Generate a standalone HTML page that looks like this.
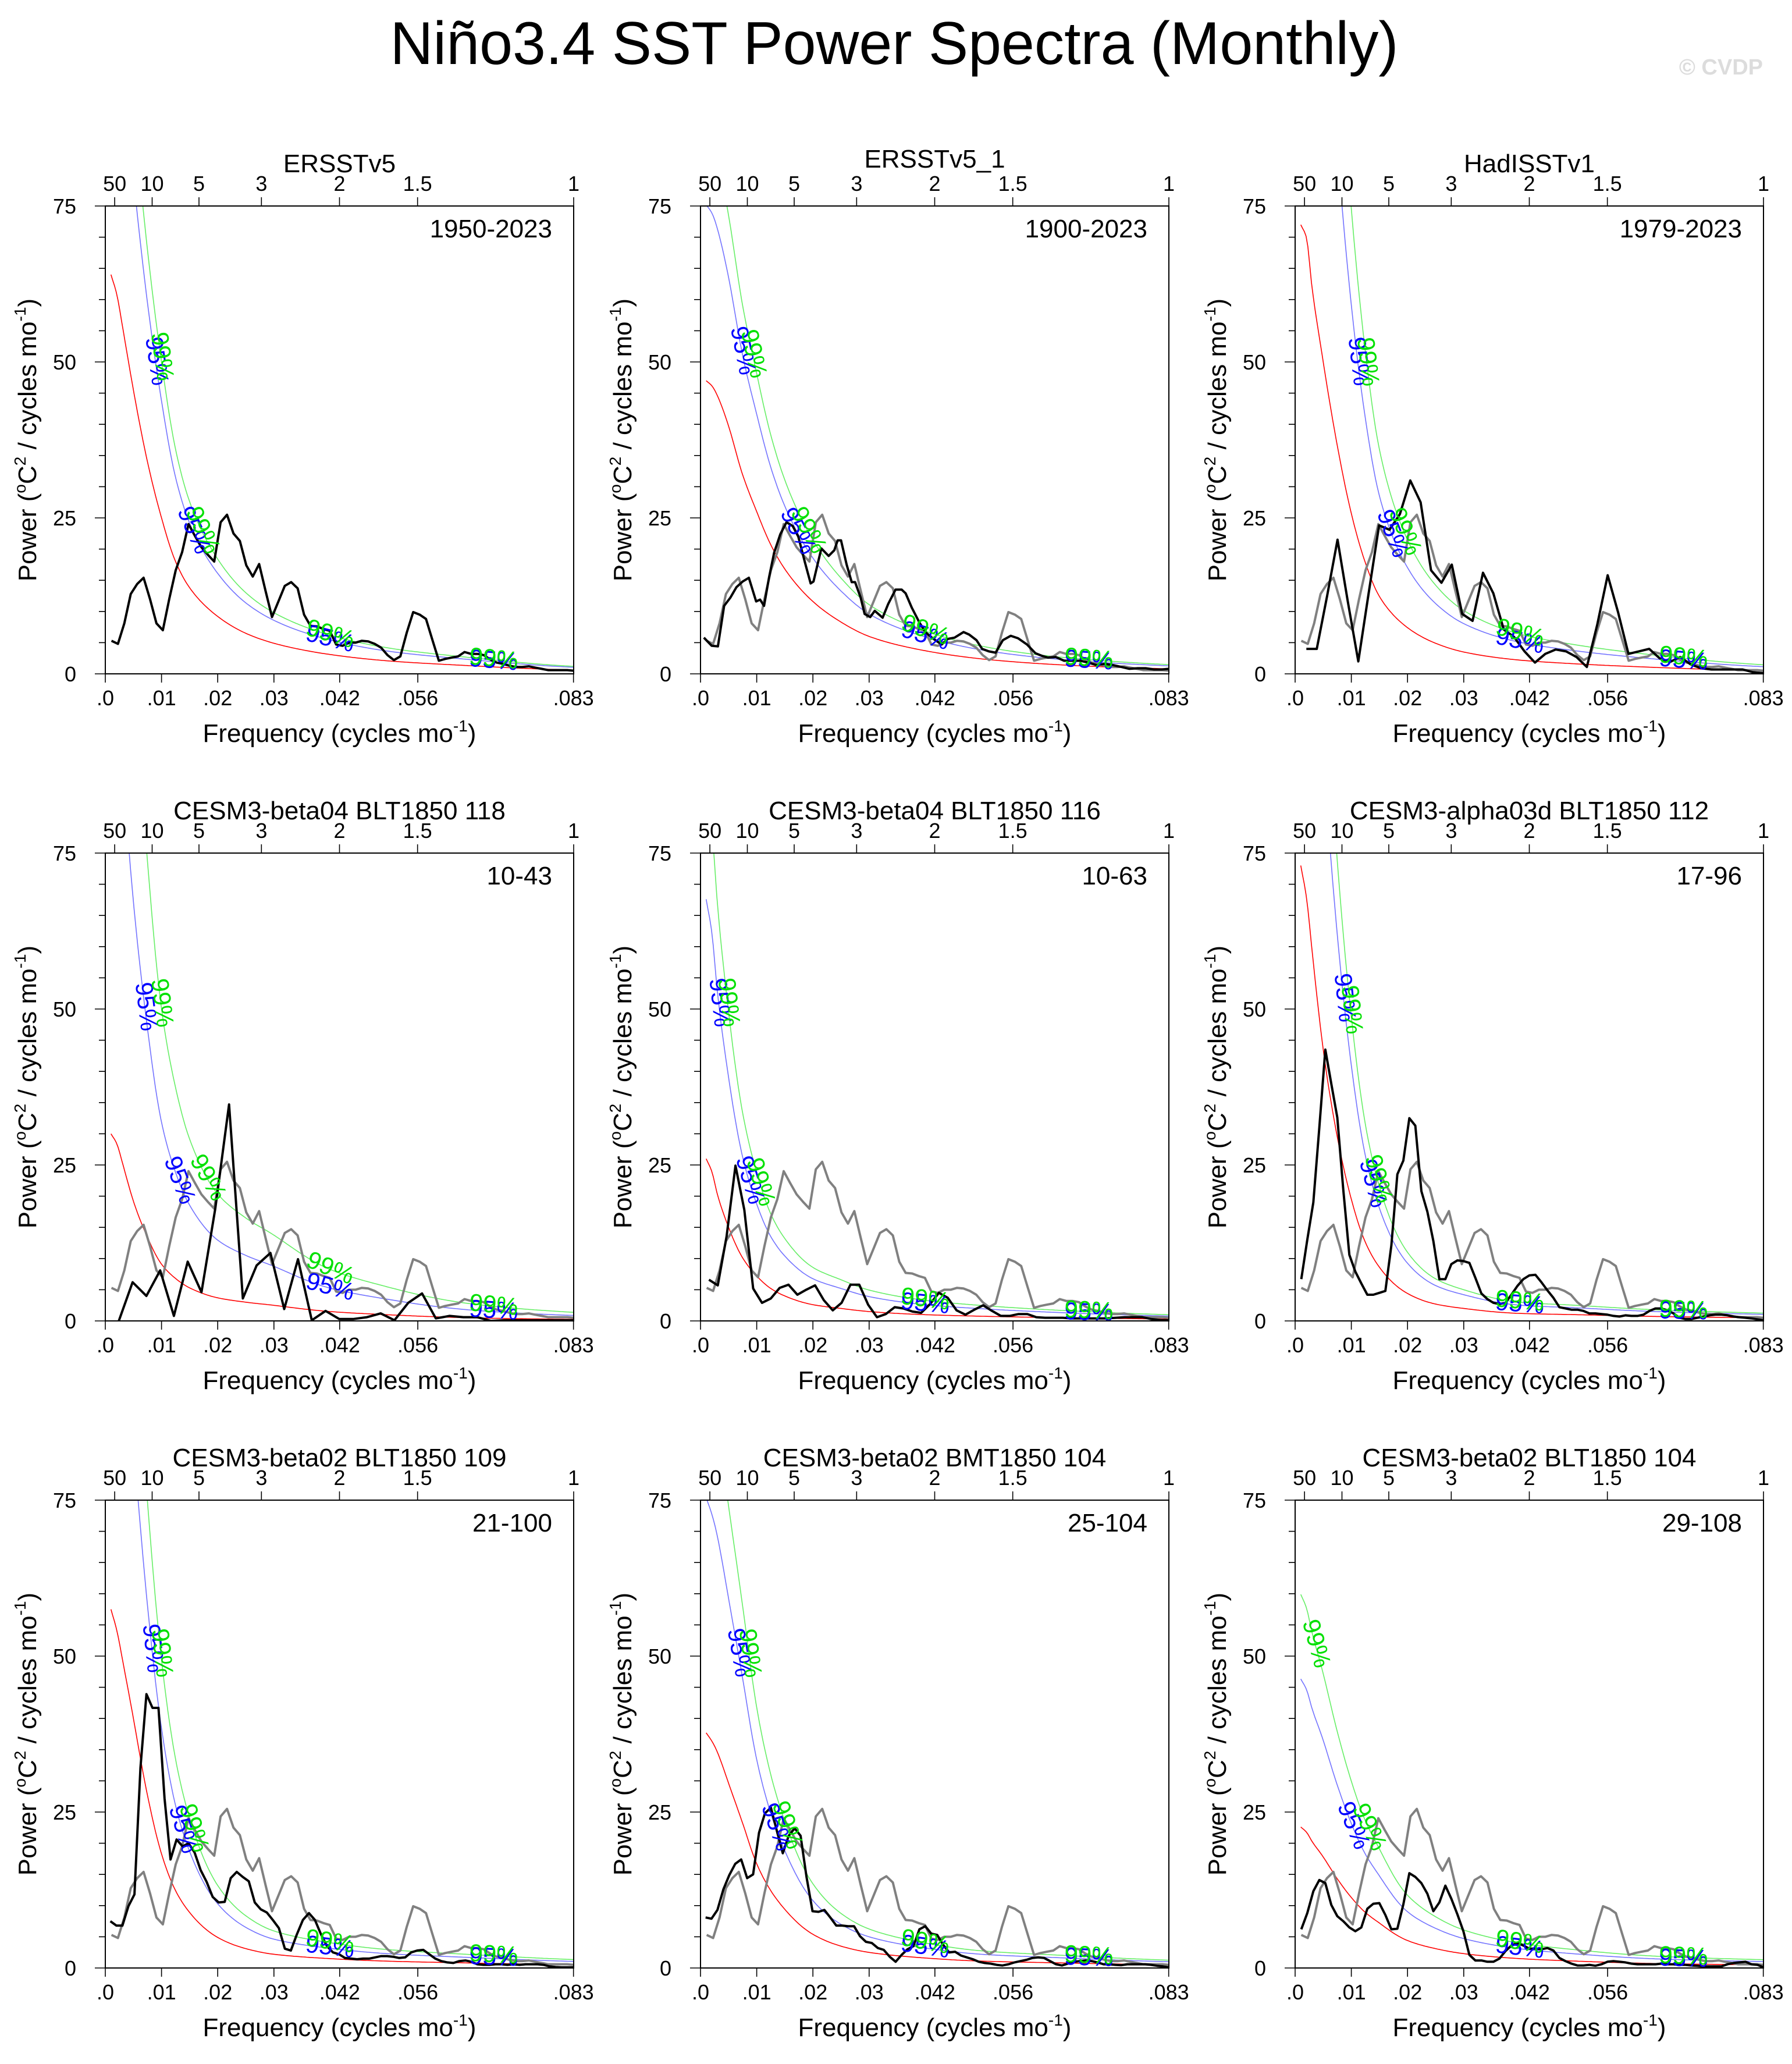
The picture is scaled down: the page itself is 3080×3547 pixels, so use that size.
<!DOCTYPE html>
<html><head><meta charset="utf-8"><title>Niño3.4 SST Power Spectra</title>
<style>
html,body{margin:0;padding:0;background:#fff;}
svg{display:block;font-family:"Liberation Sans",Arial,sans-serif;}
</style></head>
<body>
<svg id="fig" width="3080" height="3547" viewBox="0 0 3080 3547" xmlns="http://www.w3.org/2000/svg">
<rect x="0" y="0" width="3080" height="3547" fill="#fff"/>
<text x="1537" y="110" text-anchor="middle" font-size="104" textLength="1733" lengthAdjust="spacingAndGlyphs">Niño3.4 SST Power Spectra (Monthly)</text>
<text x="3030" y="128" text-anchor="end" font-size="38" font-weight="bold" fill="#dcdcdc">© CVDP</text>
<g id="panels"></g>
</svg>
<script>
// ---------- DATA ----------
const redFreq = [0.001,0.002,0.003,0.005,0.0075,0.01,0.0125,0.015,0.02,0.025,0.03,0.04,0.05,0.065,0.0833];
const redP1 = [64,61,56,45.5,34,25,18,13.8,9.2,6.5,4.9,3.1,2.1,1.3,0.6];
const redP2 = [47,46.2,44.6,39.7,31.9,26,20.7,16.8,11.6,8.3,6,3.7,2.4,1.4,0.8];
const redP3 = [72,70,62,50,36.6,25.7,17.8,12.4,7.4,4.9,3.5,2.2,1.6,1.0,0.5];
const redP4 = [30,28.5,25.5,19.2,13.4,9.1,6.8,5.3,3.7,3.0,2.5,1.5,1.0,0.5,0.25];
const redP5 = [26,24,20.3,15,10.1,7.2,5.2,4.0,2.6,2.0,1.5,1.0,0.75,0.5,0.3];
const redP6 = [73,68,59.5,43.5,29.5,19.5,12.6,8.6,4.4,2.7,2.0,1.2,1.0,0.7,0.5];
const redP7 = [57.5,54.3,49.7,40,27.7,18.3,12.4,8.9,4.9,3.1,2.2,1.5,1.1,0.8,0.5];
const redP8 = [37.7,36.4,34.6,29.6,23.2,16.7,12.4,9.4,5.4,3.5,2.5,1.6,1.1,0.8,0.5];
const redP9 = [22.6,21.8,20.3,17.8,14.3,11.3,8.9,7.2,4.4,3.1,2.3,1.5,1.1,0.7,0.5];
const ci95Factor = [1.75,1.6,2.3,3.5,2.6,2.1,2.1,2.0,2.05];
const ci99Factor = [2.0,1.85,2.9,5.5,3.3,2.5,2.7,2.5,2.65];

const specStart = [0.0011,0.0006,0.002,0.0024,0.0015,0.0011,0.0009,0.0009,0.0011];
const specP1 = [5.3,4.8,8.1,12.8,14.4,15.4,12,8.1,7,12,16.6,19.5,24,22.1,20.3,19.1,18,24.3,25.5,22.5,21.3,17.4,15.6,17.6,13.3,9.1,11.6,14.1,14.7,13.7,9.5,7.7,7.6,7.2,6.9,4.7,4.5,5.0,5.0,5.3,5.2,4.8,4.2,3.0,2.2,2.8,6.6,9.9,9.5,8.8,5.4,2.1,2.4,2.6,2.8,3.5,3.2,3.2,3.0,2.3,1.8,1.6,1.3,1.1,1.1,1.2,1.0,0.8,0.6,0.6,0.6,0.6,0.5];
const freqP2 = [.0006,.0020,.0031,.0042,.0053,.0064,.0075,.0086,.0099,.0106,.0113,.0122,.0131,.0142,.0153,.0164,.0174,.0186,.0196,.0201,.0215,.0228,.0238,.0244,.0250,.0260,.0269,.0275,.0285,.0292,.0302,.0310,.0324,.0334,.0347,.0358,.0365,.0376,.0389,.0400,.0413,.0429,.0440,.0452,.0468,.0478,.0491,.0501,.0513,.0525,.0538,.0552,.0565,.0581,.0596,.0607,.0618,.0632,.0647,.0661,.0676,.0690,.0705,.0719,.0734,.0749,.0763,.0778,.0792,.0807,.0821,.0833];
const specP2 = [5.8,4.5,4.4,10.9,12.2,13.9,14.8,15.4,11.6,11.9,10.9,15.5,19.4,22.4,24.3,23.7,22,17.8,14.5,14.8,20.1,18.9,19.8,21.4,21.4,17.5,14.7,14.7,12.2,9.6,9.1,10.1,9,11.2,13.5,13.5,12.9,10.6,8.3,6.7,5.7,4.7,5.6,5.8,6.7,6.3,5.4,4,3.6,3.4,5.4,6.1,5.7,4.7,3.3,2.9,2.6,2.7,2.1,2.1,2.1,1.8,1.4,1.6,1.4,1.1,0.8,0.9,0.9,0.7,0.7,0.8];
const specP3 = [4.0,4.0,12.5,21.5,11.5,2.0,13,23.8,23.1,25.6,31.0,27.5,16.6,14.6,17.5,9.6,8.5,16.2,12.9,7.1,5.9,3.6,1.8,3.2,3.9,3.6,2.7,1.1,7.9,15.8,9.9,3.2,3.6,4.0,2.5,1.9,2.7,1.5,0.9,0.7,0.7,0.7,0.7,0.25,0.1];
const specP4 = [0,6.2,4.0,8.1,0.8,9.5,4.6,18.0,34.7,3.6,8.9,10.9,1.9,9.9,0.1,1.6,0.3,0.3,0.6,1.2,0.1,2.9,4.4,0.4,0.8,0.6,0.6,0,0.1,0.1,0.1,0.1,0.1,0.1];
const specP5 = [6.6,5.7,13.6,24.9,17.8,5.2,2.9,3.6,5.3,5.8,4.2,5.0,5.7,3.3,1.7,2.9,5.8,5.8,2.6,0.6,1.1,2.2,2.0,1.5,1.3,2.7,4.5,3.7,1.7,1.0,1.8,2.5,1.6,0.8,0.8,1.1,1.1,0.6,0.5,0.5,0.5,0.4,0.4,0.4,0.4,0.4,0.5,0.6,0.6,0.6,0.3,0.15,0.1];
const specP6 = [6.7,13,19.0,31,43.5,38,32.6,21,10.6,7.9,6,4.2,4.2,4.5,4.8,12.1,23.5,25.7,32.5,31.3,20.8,17.5,12.8,6.7,6.7,9.1,9.7,9.6,9.3,6.9,4.4,3.5,2.9,2.7,2.9,4.2,5.6,6.7,7.3,7.4,6.2,4.9,3.7,2.2,2.0,1.8,1.8,1.6,1.2,1.2,1.1,1.0,0.8,0.7,0.9,0.8,0.8,1.0,1.6,2.0,2.0,1.7,1.2,0.5,0.3,0.3,0.5,0.7,0.9,1.0,1.0,0.9,0.7,0.6,0.5,0.4,0.25,0.1];
const specP7 = [7.5,6.8,6.8,9.9,11.8,32.1,43.9,41.7,41.7,27.2,17.4,20.6,19.5,20.0,18.5,15.7,13.8,11.4,10.5,10.6,14.4,15.4,14.6,13.9,10.5,9.4,8.9,7.7,6.4,3.1,2.8,5.4,7.7,8.8,7.7,5.4,3.5,2.5,2.2,1.6,1.5,1.4,1.5,1.5,1.7,1.9,1.9,1.8,1.6,1.7,2.5,2.8,2.9,2.2,1.5,1.1,0.9,0.8,1.1,1.2,1.0,0.6,0.5,0.5,0.6,0.6,0.5,0.6,0.5,0.6,0.6,0.6,0.5,0.25,0.15,0.1,0.1,0.1];
const specP8 = [8.1,7.9,9.3,12.6,14.9,16.7,17.4,14.4,15.0,21.7,24.8,25.7,22.0,18.4,21.2,22.4,21.2,14.6,9.1,9.0,9.3,8.1,6.8,6.8,6.7,6.7,5.1,4.2,4.0,3.2,2.9,1.8,1.0,2.1,3.0,3.5,6.2,6.7,5.5,5.3,3.7,2.5,2.6,2.0,1.7,1.4,1.0,0.8,0.7,0.5,0.4,0.6,0.9,1.1,1.3,1.6,1.7,1.6,1.1,0.6,0.4,0.7,1.0,1.1,1.2,1.1,0.9,0.6,0.6,0.5,0.45,0.6,0.6,0.6,0.6,0.5,0.35,0.25,0.1];
const specP9 = [6.2,8.8,12.3,14.1,13.6,10.1,8.3,7.5,6.5,5.9,6.5,9.5,10.3,10.4,8.5,6.2,6.3,10.2,15.2,14.6,13.6,11.9,9.1,10.5,13.2,11.1,8.6,5.9,2.1,1.2,1.2,1.0,1.0,1.5,2.7,3.6,4.0,3.6,3.1,3.1,3.0,3.2,2.8,1.6,1.1,0.7,0.4,0.4,0.5,0.35,0.6,1.0,1.1,1.0,0.9,0.7,0.6,0.6,0.6,0.6,0.7,0.6,0.6,0.5,0.5,0.4,0.35,0.25,0.25,0.25,0.25,0.6,0.8,0.9,1.0,0.6,0.5,0.1];

const panelTitles = ["ERSSTv5","ERSSTv5_1","HadISSTv1","CESM3-beta04 BLT1850 118","CESM3-beta04 BLT1850 116","CESM3-alpha03d BLT1850 112","CESM3-beta02 BLT1850 109","CESM3-beta02 BMT1850 104","CESM3-beta02 BLT1850 104"];
const panelRanges = ["1950-2023","1900-2023","1979-2023","10-43","10-63","17-96","21-100","25-104","29-108"];
const yTicks = [0,25,50,75];
const xTickVals = [0,0.01,0.02,0.03,0.0417,0.0556,0.0833];
const xTickLabels = [".0",".01",".02",".03",".042",".056",".083"];
const periodVals = [50,10,5,3,2,1.5,1];
const periodLabels = ["50","10","5","3","2","1.5","1"];

const redSets = [redP1,redP2,redP3,redP4,redP5,redP6,redP7,redP8,redP9];
const specSets = [specP1,specP2,specP3,specP4,specP5,specP6,specP7,specP8,specP9];

// ---------- LAYOUT ----------
const NS = "http://www.w3.org/2000/svg";
const colLeft = [181,1204,2226], rowTop = [354,1466,2578];
const PW = 805, PH = 804, FMAX = 1/12, YMAX = 75;
const root = document.getElementById('panels');
function el(tag, attrs, parent){const e=document.createElementNS(NS,tag);for(const k in attrs)e.setAttribute(k,attrs[k]);(parent||root).appendChild(e);return e;}

function monoInterp(xs, ys){
  const n=xs.length, d=[], m=[];
  for(let i=0;i<n-1;i++) d.push((ys[i+1]-ys[i])/(xs[i+1]-xs[i]));
  m[0]=d[0]; m[n-1]=d[n-2];
  for(let i=1;i<n-1;i++) m[i]=(d[i-1]*d[i]<=0)?0:2*d[i-1]*d[i]/(d[i-1]+d[i]);
  return function(x){
    let i=0; while(i<n-2 && x>xs[i+1]) i++;
    const h=xs[i+1]-xs[i], t=Math.max(0,Math.min(1,(x-xs[i])/h));
    const t2=t*t,t3=t2*t;
    return (2*t3-3*t2+1)*ys[i]+(t3-2*t2+t)*h*m[i]+(-2*t3+3*t2)*ys[i+1]+(t3-t2)*h*m[i+1];
  };
}

for(let p=0;p<9;p++){
  const L=colLeft[p%3], T=rowTop[Math.floor(p/3)], R=L+PW, B=T+PH;
  const sx=f=>L+f/FMAX*PW, sy=v=>B-v/YMAX*PH;
  const g=el('g',{});
  
  
  const clipId='clip'+p;
  const cp=el('clipPath',{id:clipId},g); el('rect',{x:L,y:T,width:PW,height:PH},cp);

  const tt=el('text',{x:(L+R)/2,y:(p===1?T-66:T-58),'text-anchor':'middle','font-size':44},g);
   
  tt.textContent=panelTitles[p];
  const rt=el('text',{x:R-37,y:T+54,'text-anchor':'end','font-size':44},g);
   
  rt.textContent=panelRanges[p];

  const cg=el('g',{'clip-path':'url(#'+clipId+')'},g);
  const logs=redSets[p].map(v=>Math.log(v));
  const fn=monoInterp(redFreq,logs);
  const pts=[]; const N=260;
  for(let i=0;i<=N;i++){const f=redFreq[0]+(FMAX-redFreq[0])*i/N; pts.push([f,Math.exp(fn(f))]);}
  const curves=[[1,'#ff0000','red-noise-curve'],[ci95Factor[p],'#7373ff','ci95-curve'],[ci99Factor[p],'#66ee66','ci99-curve']];
  const curvePts=[];
  curves.forEach(([k,col,nm])=>{
    const cpts=pts.map(([f,v])=>[sx(f),sy(v*k)]);
    curvePts.push(cpts);
    const pl=el('polyline',{points:cpts.map(q=>q[0].toFixed(1)+','+q[1].toFixed(1)).join(' '),fill:'none',stroke:col,'stroke-width':1.6},cg);
     
  });
  function specPoints(s,idx){
    const n=s.length;
    return s.map((v,i)=>{const f=(idx===1)?freqP2[i]:specStart[idx]+(FMAX-specStart[idx])*i/(n-1);return sx(f).toFixed(1)+','+sy(v).toFixed(1);}).join(' ');
  }
  if(p>0){
    const gl=el('polyline',{points:specPoints(specP1,0),fill:'none',stroke:'#808080','stroke-width':4,'stroke-linejoin':'round'},cg);
     
  }
  const bl=el('polyline',{points:specPoints(specSets[p],p),fill:'none',stroke:'#000','stroke-width':4,'stroke-linejoin':'round'},cg);
   

  [[1,'#0000ff','95%'],[2,'#00e000','99%']].forEach(([ci,col,txt])=>{
    const cpts=curvePts[ci];
    const k=curves[ci][0];
    const targets=[];
    [52,23].forEach(val=>{
      for(let i=1;i<pts.length;i++){
        const a=pts[i-1][1]*k,b=pts[i][1]*k;
        if(a>=val&&b<val){targets.push(i);break;}
      }
    });
    [0.04,0.069].forEach(f=>{targets.push(Math.round((f-redFreq[0])/(FMAX-redFreq[0])*N));});
    targets.forEach(i=>{
      i=Math.max(1,Math.min(N-1,i));
      const x=cpts[i][0],y=cpts[i][1];
      if(y<T+20) return;
      const dx=cpts[i+1][0]-cpts[i-1][0],dy=cpts[i+1][1]-cpts[i-1][1];
      const ang=Math.atan2(dy,dx)*180/Math.PI;
      const lt=el('text',{x:x,y:y,'text-anchor':'middle','dominant-baseline':'middle','font-size':42,fill:col,transform:'rotate('+ang.toFixed(1)+' '+x.toFixed(1)+' '+y.toFixed(1)+')'},g);
      
      
      lt.textContent=txt;
    });
  });

  const fr=el('rect',{x:L,y:T,width:PW,height:PH,fill:'none',stroke:'#000','stroke-width':2},g);
   
  for(let v=0;v<=75;v+=5){
    const major=(v%25===0);
    el('line',{x1:L-(major?18:11),x2:L,y1:sy(v),y2:sy(v),stroke:'#000','stroke-width':1.6},g);
  }
  yTicks.forEach(v=>{
    const t=el('text',{x:L-50,y:sy(v)+13,'text-anchor':'end','font-size':36},g);
     
    t.textContent=String(v);
  });
  xTickVals.forEach((f,i)=>{
    el('line',{x1:sx(f),x2:sx(f),y1:B,y2:B+15,stroke:'#000','stroke-width':1.6},g);
    const t=el('text',{x:sx(f),y:B+54,'text-anchor':'middle','font-size':36},g);
     
    t.textContent=xTickLabels[i];
  });
  periodVals.forEach((pv,i)=>{
    const f=1/(12*pv);
    el('line',{x1:sx(f),x2:sx(f),y1:T-15,y2:T,stroke:'#000','stroke-width':1.6},g);
    const t=el('text',{x:sx(f),y:T-26,'text-anchor':'middle','font-size':36},g);
     
    t.textContent=periodLabels[i];
  });
  const xt=el('text',{x:(L+R)/2,y:B+117,'text-anchor':'middle','font-size':44},g);
   
  xt.innerHTML='Frequency (cycles mo<tspan font-size="28" dy="-18">-1</tspan><tspan dy="18">)</tspan>';
  const yx=L-119, yy=(T+B)/2;
  const yt=el('text',{x:yx,y:yy,'text-anchor':'middle','font-size':44,transform:'rotate(-90 '+yx+' '+yy+')'},g);
   
  yt.innerHTML='Power (<tspan font-size="28" dy="-18">o</tspan><tspan dy="18">C</tspan><tspan font-size="28" dy="-18">2</tspan><tspan dy="18"> / cycles mo</tspan><tspan font-size="28" dy="-18">-1</tspan><tspan dy="18">)</tspan>';
}
</script>
</body></html>
